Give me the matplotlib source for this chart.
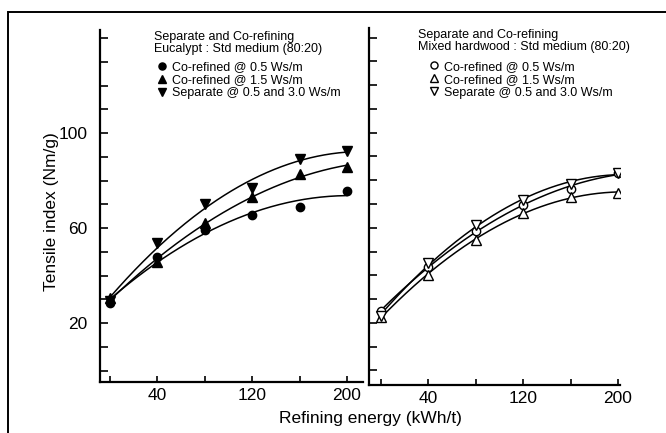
import numpy as np
import matplotlib
matplotlib.use("Agg")
import matplotlib.pyplot as plt
from matplotlib.lines import Line2D

plt.rcParams['font.family'] = ['Liberation Sans', 'DejaVu Sans']

# ---- data ----
energy = [0, 40, 80, 120, 160, 200]

euc_co05 = [28.4, 47.8, 59.2, 65.5, 68.8, 75.6]
euc_co15 = [30.5, 45.7, 62.0, 73.0, 82.7, 85.7]
euc_sep = [29.5, 53.7, 70.0, 77.0, 89.0, 92.5]

mix_co05 = [25.0, 43.6, 58.7, 69.7, 76.4, 83.0]
mix_co15 = [22.5, 40.2, 55.0, 66.3, 73.0, 74.7]
mix_sep = [23.0, 45.0, 61.0, 71.6, 78.5, 83.0]

labels = ["Co-refined @ 0.5 Ws/m", "Co-refined @ 1.5 Ws/m", "Separate @ 0.5 and 3.0 Ws/m"]
titles = ["Separate and Co-refining\nEucalypt : Std medium (80:20)",
          "Separate and Co-refining\nMixed hardwood : Std medium (80:20)"]
xlabel = "Refining energy (kWh/t)"
ylabel = "Tensile index (Nm/g)"
xticks_major = [40, 120, 200]
yticks_major = [20, 60, 100]

W, H = 666, 433
fig = plt.figure(figsize=(W / 100, H / 100), dpi=100)

def px_axes(x0, x1, ytop, ybot):
    return fig.add_axes([x0 / W, 1 - ybot / H, (x1 - x0) / W, (ybot - ytop) / H])

axL = px_axes(100, 363, 30, 382)
axR = px_axes(369, 620, 28, 385)

markers = ['o', '^', 'v']

def draw(ax, series, filled, xlim, ylim, show_ylabels, title, tx, lx, ly):
    handles = []
    xs = np.linspace(min(energy), max(energy), 200)
    for vals, m in zip(series, markers):
        coef = np.polyfit(energy, vals, 2)
        ax.plot(xs, np.polyval(coef, xs), color='black', lw=1.1, zorder=2)
        h, = ax.plot(energy, vals, linestyle='none', marker=m, ms=6.5 if m != 'o' else 6,
                     mfc='black' if filled else 'white', mec='black', mew=1.0, zorder=3)
        handles.append(h)
    ax.set_xlim(*xlim)
    ax.set_ylim(*ylim)
    for s in ['top', 'right']:
        ax.spines[s].set_visible(False)
    for s in ['left', 'bottom']:
        ax.spines[s].set_linewidth(1.6)
    ax.set_xticks(xticks_major)
    ax.set_xticks([0, 80, 160], minor=True)
    ax.set_yticks(yticks_major)
    ax.set_yticks([0, 10, 30, 40, 50, 70, 80, 90, 110, 120, 130, 140], minor=True)
    ax.tick_params(axis='both', which='both', direction='in', width=1.2, labelsize=12.5)
    ax.tick_params(axis='y', which='both', length=6, pad=9)
    ax.tick_params(axis='x', which='both', length=4, pad=4)
    if not show_ylabels:
        ax.set_yticklabels([])
    ax.text(tx, 0.997, title, transform=ax.transAxes, ha='left', va='top',
            fontsize=9, linespacing=1.0)
    ax.legend(handles, labels, loc='upper left', bbox_to_anchor=(lx, ly),
              frameon=False, fontsize=9, borderaxespad=0, borderpad=0,
              handlelength=0.9, handletextpad=0.35, labelspacing=0.08,
              markerscale=0.85)
    return ax

draw(axL, [euc_co05, euc_co15, euc_sep], True, (-8.4, 213.5), (-4.8, 143.4), True,
     titles[0], 0.205, 0.215, 0.912)
draw(axR, [mix_co05, mix_co15, mix_sep], False, (-10, 201.7), (-6.1, 144.0), False,
     titles[1], 0.195, 0.235, 0.908)

fig.text(0.078, 1 - 212 / H, ylabel, rotation=90, ha='center', va='center', fontsize=12.5)
fig.text(370 / W, 1 - 418 / H, xlabel, ha='center', va='center', fontsize=12.5)

# outer frame (top and left edges)
fig.add_artist(Line2D([9 / W, 1.0], [1 - 12 / H, 1 - 12 / H], transform=fig.transFigure,
                      color='black', lw=1.4))
fig.add_artist(Line2D([8 / W, 8 / W], [0, 1 - 12 / H], transform=fig.transFigure,
                      color='black', lw=1.4))

fig.savefig("out.png", dpi=100)
